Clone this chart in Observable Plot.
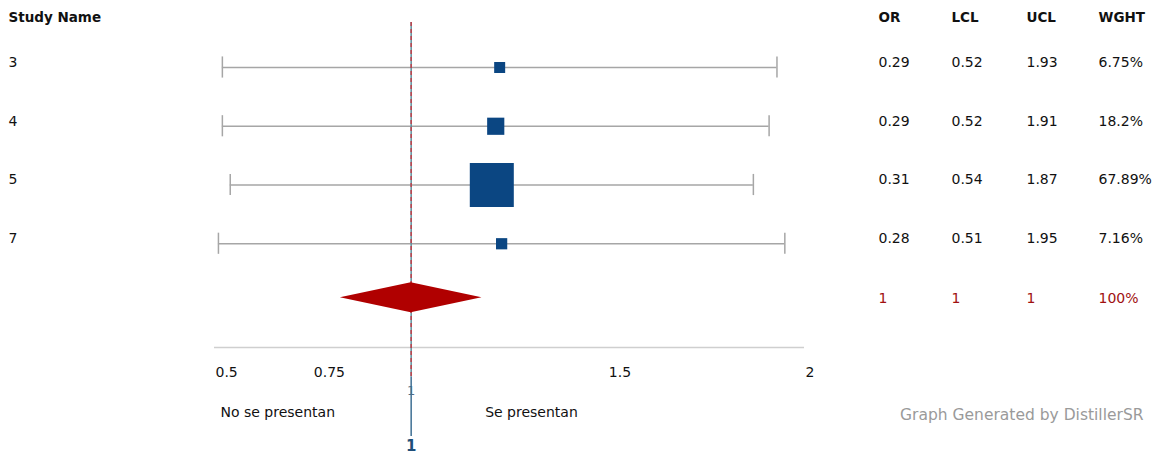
<!DOCTYPE html>
<html>
<head>
<meta charset="utf-8">
<script src="https://cdn.jsdelivr.net/npm/d3@7"></script>
<script src="https://cdn.jsdelivr.net/npm/@observablehq/plot@0.6"></script>
<style>
  html, body { margin: 0; padding: 0; background: #fff; }
  #chart { width: 1156px; height: 453px; }
</style>
</head>
<body>
<div id="chart"></div>
<script>
// Per-study results
const studies = ["3", "4", "5", "7"];
const orValues = [0.29, 0.29, 0.31, 0.28];
const lclValues = [0.52, 0.52, 0.54, 0.51];
const uclValues = [1.93, 1.91, 1.87, 1.95];
const weights = [6.75, 18.2, 67.89, 7.16];

// Pooled estimate (summary row)
const pooledCenter = 1;
const pooledLow = 0.82;
const pooledHigh = 1.18;
const pooledLabels = ["1", "1", "1", "100%"];

// Table columns and axis
const columnHeaders = ["OR", "LCL", "UCL", "WGHT"];
const axisTicks = [0.5, 0.75, 1.5, 2];
const axisTickLabels = ["0.5", "0.75", "1.5", "2"];
const leftLabel = "No se presentan";
const rightLabel = "Se presentan";
const footerText = "Graph Generated by DistillerSR";

const fmtPct = v => `${v}%`;
const rows = studies.map((s, i) => ({
  study: s,
  row: i,
  or: orValues[i],
  lcl: lclValues[i],
  ucl: uclValues[i],
  weight: weights[i],
  mid: (lclValues[i] + uclValues[i]) / 2,
  cols: [String(orValues[i]), String(lclValues[i]), String(uclValues[i]), fmtPct(weights[i])]
}));

// Layout (row units on the y scale)
const summaryRow = 3.92;
const headerRow = -0.85;
const axisRow = 4.766;
const tickRow = 5.19;
const capHalf = 0.18;
const diamondHalf = 0.255;
const columnX = [878, 951, 1026, 1098];

const diamond = [
  {x: pooledLow, lo: summaryRow, hi: summaryRow},
  {x: pooledCenter, lo: summaryRow - diamondHalf, hi: summaryRow + diamondHalf},
  {x: pooledHigh, lo: summaryRow, hi: summaryRow}
];

const tableMarks = columnHeaders.flatMap((h, j) => [
  Plot.text([h], {frameAnchor: "left", dx: columnX[j], y: () => headerRow, text: d => d,
    textAnchor: "start", fontWeight: "bold", fontSize: 13.5, fill: "#111"}),
  Plot.text(rows, {frameAnchor: "left", dx: columnX[j], y: "row", dy: -5, text: d => d.cols[j],
    textAnchor: "start", fill: "#111"}),
  Plot.text([pooledLabels[j]], {frameAnchor: "left", dx: columnX[j], y: () => summaryRow, dy: 1,
    text: d => d, textAnchor: "start", fill: "#a01010"})
]);

const chart = Plot.plot({
  width: 1156,
  height: 453,
  marginLeft: 0,
  marginRight: 0,
  marginTop: 0,
  marginBottom: 0,
  style: {fontFamily: "'DejaVu Sans', sans-serif", fontSize: "14px", background: "#fff", overflow: "visible"},
  x: {domain: [0.5, 2], range: [214, 804], axis: null},
  y: {domain: [-1, 6.5], range: [8.25, 448.875], axis: null},
  r: {type: "linear", domain: [0, 67.89], range: [4.15, 24.83]},
  marks: [
    // header
    Plot.text(["Study Name"], {frameAnchor: "left", dx: 8, y: () => headerRow, text: d => d,
      textAnchor: "start", fontWeight: "bold", fontSize: 13.5, fill: "#111"}),
    // study names
    Plot.text(rows, {frameAnchor: "left", dx: 8, y: "row", dy: -5, text: "study",
      textAnchor: "start", fill: "#111"}),
    // confidence intervals with end caps
    Plot.ruleY(rows, {y: "row", x1: "lcl", x2: "ucl", stroke: "#a6a6a6", strokeWidth: 1.5}),
    Plot.ruleX(rows, {x: "lcl", y1: d => d.row - capHalf, y2: d => d.row + capHalf, stroke: "#a6a6a6", strokeWidth: 1.5}),
    Plot.ruleX(rows, {x: "ucl", y1: d => d.row - capHalf, y2: d => d.row + capHalf, stroke: "#a6a6a6", strokeWidth: 1.5}),
    // axis line
    Plot.ruleY([axisRow], {x1: 0.5, x2: 2, stroke: "#cfcfcf", strokeWidth: 1.5}),
    // line of no effect
    Plot.ruleX([pooledCenter], {y1: -0.766, y2: 5.27, stroke: "#5b8f9c", strokeWidth: 1.5}),
    Plot.ruleX([pooledCenter], {y1: -0.766, y2: 5.27, stroke: "#c0404a", strokeWidth: 1.5, strokeDasharray: "4,3"}),
    // small tick label for the reference value
    Plot.text([pooledCenter], {x: d => d, y: () => 5.5, text: d => String(d), fontSize: 13, fill: "#556a80"}),
    Plot.ruleX([pooledCenter], {y1: 5.27, y2: 6.28, stroke: "#3f6f93", strokeWidth: 1.5}),
    // pooled diamond
    Plot.area(diamond, {x1: "x", y1: "lo", y2: "hi", fill: "#b00000"}),
    // study weights as squares
    Plot.dot(rows, {x: "mid", y: "row", r: "weight", symbol: "square", fill: "#0b4682", stroke: "none"}),
    // tick labels
    Plot.text(axisTicks, {x: d => d, y: () => tickRow, text: (d, i) => axisTickLabels[i],
      textAnchor: "start", dx: 1, fill: "#111"}),
    // direction labels
    Plot.text([leftLabel], {x: () => 0.5, dx: 6, y: () => 5.87, text: d => d, textAnchor: "start", fill: "#111"}),
    Plot.text([rightLabel], {x: () => 1, dx: 74, y: () => 5.87, text: d => d, textAnchor: "start", fill: "#111"}),
    Plot.text([pooledCenter], {x: d => d, y: () => 6.45, text: d => String(d), fontWeight: "bold",
      fontSize: 15, fill: "#1f4e79"}),
    // footer
    Plot.text([footerText], {frameAnchor: "right", dx: -13, y: () => 5.92, text: d => d,
      textAnchor: "end", fontSize: 15.5, fill: "#9a9a9a"}),
    ...tableMarks
  ]
});

document.getElementById("chart").appendChild(chart);
</script>
</body>
</html>
